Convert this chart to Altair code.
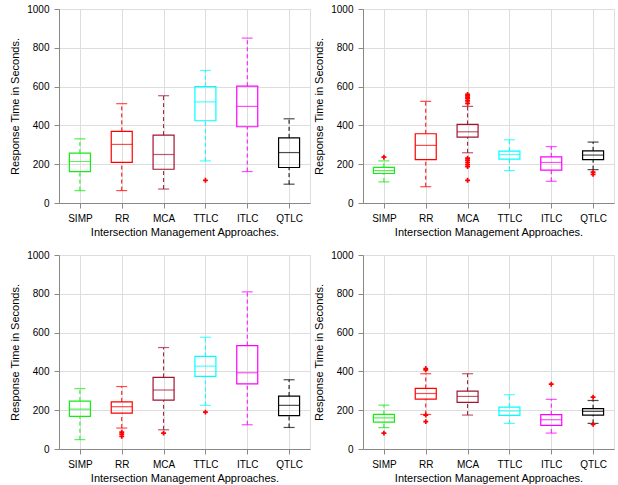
import altair as alt
import pandas as pd

cats = ["SIMP", "RR", "MCA", "TTLC", "ITLC", "QTLC"]
colors = ["#11ee11", "#ff0000", "#a2142f", "#00ffff", "#ff00ff", "#000000"]

# five-number summaries per panel: lower whisker, Q1, median, Q3, upper whisker
p1_lo  = [64, 64, 72, 217, 162, 97]
p1_q1  = [162, 209, 174, 424, 393, 183]
p1_med = [214, 302, 250, 521, 498, 260]
p1_q3  = [257, 369, 350, 600, 602, 336]
p1_hi  = [331, 512, 553, 683, 850, 434]
p1_out_cat = ["TTLC"]
p1_out_val = [117]

p2_lo  = [109, 84, 259, 167, 112, 172]
p2_q1  = [152, 224, 340, 226, 169, 224]
p2_med = [167, 297, 367, 250, 209, 247]
p2_q3  = [184, 357, 405, 267, 238, 269]
p2_hi  = [217, 524, 498, 326, 291, 314]
p2_out_cat = ["SIMP", "MCA", "MCA", "MCA", "MCA", "MCA", "MCA", "MCA", "MCA",
              "MCA", "MCA", "MCA", "MCA", "QTLC", "QTLC"]
p2_out_val = [236, 560, 552, 545, 538, 526, 514, 231, 221, 209, 198, 188, 117,
              159, 148]

p3_lo  = [48, 108, 99, 225, 125, 111]
p3_q1  = [168, 185, 252, 374, 336, 172]
p3_med = [206, 218, 304, 427, 393, 225]
p3_q3  = [247, 243, 369, 477, 533, 273]
p3_hi  = [311, 322, 523, 576, 810, 357]
p3_out_cat = ["RR", "RR", "RR", "MCA", "TTLC"]
p3_out_val = [87, 77, 65, 82, 190]

p4_lo  = [110, 178, 175, 132, 82, 132]
p4_q1  = [139, 257, 240, 173, 122, 175]
p4_med = [160, 286, 271, 196, 151, 194]
p4_q3  = [178, 312, 298, 216, 177, 208]
p4_hi  = [226, 388, 388, 280, 256, 250]
p4_out_cat = ["SIMP", "RR", "RR", "RR", "RR", "ITLC", "QTLC", "QTLC"]
p4_out_val = [82, 415, 408, 175, 141, 334, 267, 127]

panels = [
    (p1_lo, p1_q1, p1_med, p1_q3, p1_hi, p1_out_cat, p1_out_val),
    (p2_lo, p2_q1, p2_med, p2_q3, p2_hi, p2_out_cat, p2_out_val),
    (p3_lo, p3_q1, p3_med, p3_q3, p3_hi, p3_out_cat, p3_out_val),
    (p4_lo, p4_q1, p4_med, p4_q3, p4_hi, p4_out_cat, p4_out_val),
]

FONT = "Liberation Sans"
W, H = 251, 194


def xenc():
    return alt.X(
        "cat:N",
        sort=cats,
        scale=alt.Scale(type="point", padding=0.5, domain=cats),
        axis=alt.Axis(title="Intersection Management Approaches.", labelAngle=0,
                      grid=True, labelPadding=5, titlePadding=3,
                      titleFontWeight="normal"),
    )


def yenc(field):
    return alt.Y(
        field,
        type="quantitative",
        scale=alt.Scale(domain=[0, 1000], nice=False, zero=True),
        axis=alt.Axis(title="Response Time in Seconds.", values=[0, 200, 400, 600, 800, 1000],
                      format="d", grid=True, labelPadding=5, titlePadding=6,
                      titleFontWeight="normal"),
    )


col = alt.Scale(domain=cats, range=colors)


def make_panel(p):
    lo, q1, med, q3, hi, oc, ov = p
    stats = pd.DataFrame({"cat": cats, "lo": lo, "q1": q1, "med": med, "q3": q3, "hi": hi})
    outs = pd.DataFrame({"cat": oc, "val": ov})
    base = alt.Chart(stats)
    stroke = alt.Stroke("cat:N", scale=col, legend=None)
    upper = base.mark_rule(strokeDash=[4, 3], strokeWidth=1).encode(
        x=xenc(), y=yenc("q3"), y2="hi", stroke=stroke)
    lower = base.mark_rule(strokeDash=[4, 3], strokeWidth=1).encode(
        x=xenc(), y=yenc("lo"), y2="q1", stroke=stroke)
    box = base.mark_bar(size=21, fillOpacity=0, strokeWidth=1.2).encode(
        x=xenc(), y=yenc("q1"), y2="q3", stroke=stroke)
    medl = base.mark_tick(size=21, thickness=1.2).encode(
        x=xenc(), y=yenc("med"), color=alt.Color("cat:N", scale=col, legend=None))
    caph = base.mark_tick(size=11, thickness=1.2).encode(
        x=xenc(), y=yenc("hi"), color=alt.Color("cat:N", scale=col, legend=None))
    capl = base.mark_tick(size=11, thickness=1.2).encode(
        x=xenc(), y=yenc("lo"), color=alt.Color("cat:N", scale=col, legend=None))
    pts = alt.Chart(outs).mark_point(
        shape="M-1,0L1,0M0,-1L0,1", size=24, filled=False, stroke="#ff0000",
        strokeWidth=1.7, opacity=1).encode(x=xenc(), y=yenc("val"))
    return alt.layer(upper, lower, box, medl, caph, capl, pts).properties(width=W, height=H)


charts = [make_panel(p) for p in panels]
top = alt.hconcat(charts[0], charts[1], spacing=2)
bottom = alt.hconcat(charts[2], charts[3], spacing=2)
chart = alt.vconcat(top, bottom, spacing=11).properties(
    padding={"left": 9, "top": 3, "right": 0, "bottom": 0}
).configure_axis(
    labelFont=FONT, titleFont=FONT, labelFontSize=10.5, titleFontSize=12,
    titleFontWeight="normal", labelColor="#262626", titleColor="#262626",
    gridColor="#e3e3e3", gridWidth=1, domain=False, ticks=False,
).configure_view(stroke="#5a5a5a", strokeWidth=1).configure(background="white")

chart.save("out.html", embed_options={"renderer": "svg", "actions": False})
